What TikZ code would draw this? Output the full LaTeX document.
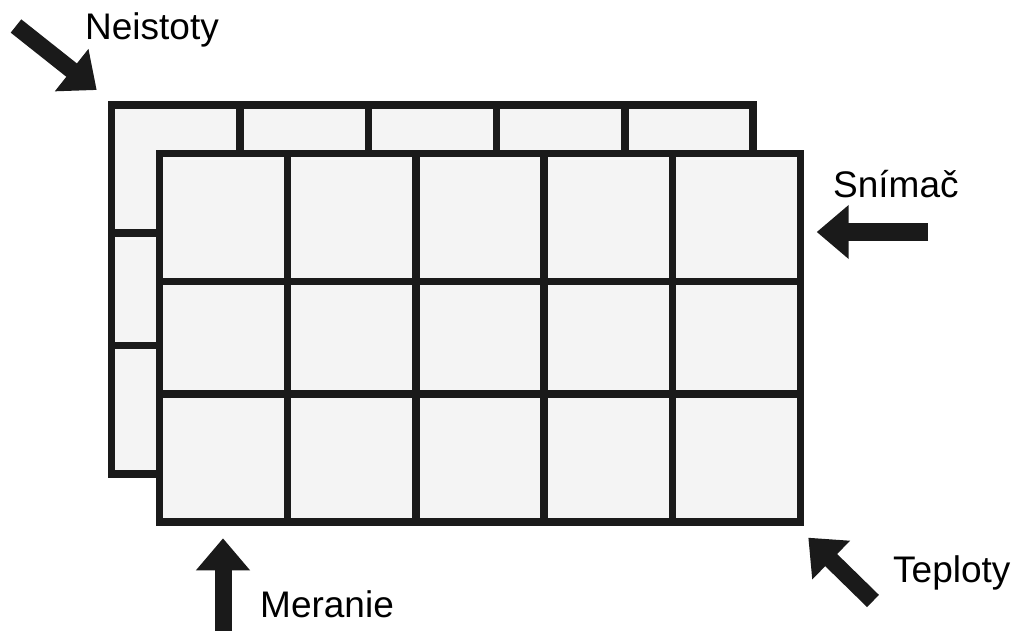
\documentclass[tikz,border=0pt]{standalone}
\usepackage{fontspec}
\setmainfont{Liberation Sans}
\usetikzlibrary{arrows.meta}
\definecolor{ink}{HTML}{1A1A1A}
\definecolor{cellfill}{HTML}{F4F4F4}
\begin{document}
\begin{tikzpicture}[x=1pt,y=-1pt,
  gridline/.style={draw=ink,line width=7.5pt,line cap=butt},
  sheet/.style={draw=ink,fill=cellfill,line width=7.5pt,line join=miter},
  blockarrow/.style={draw=ink,line width=17pt,-{Triangle[length=32pt,width=52pt]},color=ink},
  lbl/.style={anchor=base west,inner sep=0pt,font=\fontsize{37}{44}\selectfont,text=black}]
\useasboundingbox (0,0) rectangle (1017,631);
% back sheet
\path[sheet] (111.5,105) rectangle (753,474);
\foreach \x in {240,368.3,496.6,624.9} \draw[gridline] (\x,105) -- (\x,474);
\foreach \y in {233,345.5} \draw[gridline] (111.5,\y) -- (753,\y);
% front sheet
\path[sheet] (159.5,153.5) rectangle (800.5,522);
\foreach \x in {287.7,415.9,544.1,672.3} \draw[gridline] (\x,153.5) -- (\x,522);
\foreach \y in {281.5,394} \draw[gridline] (159.5,\y) -- (800.5,\y);
\path[sheet,fill=none] (159.5,153.5) rectangle (800.5,522);
% arrow ends
\coordinate (neiTail) at (16,26);
\coordinate (neiTip) at (96.7,90);
\coordinate (sniTail) at (928,232);
\coordinate (sniTip) at (816.7,232);
\coordinate (merTail) at (223,640);
\coordinate (merTip) at (223,538.3);
\coordinate (tepTail) at (873,601);
\coordinate (tepTip) at (808.3,537.7);
\draw[blockarrow] (neiTail) -- (neiTip);
\draw[blockarrow] (sniTail) -- (sniTip);
\draw[blockarrow] (merTail) -- (merTip);
\draw[blockarrow] (tepTail) -- (tepTip);
% labels
\node[lbl] (nei) at (85,40) {Neistoty};
\node[lbl] (sni) at (833,197) {Snímač};
\node[lbl] (mer) at (260,617) {Meranie};
\node[lbl] (tep) at (893,582) {Teploty};
\end{tikzpicture}
\end{document}
